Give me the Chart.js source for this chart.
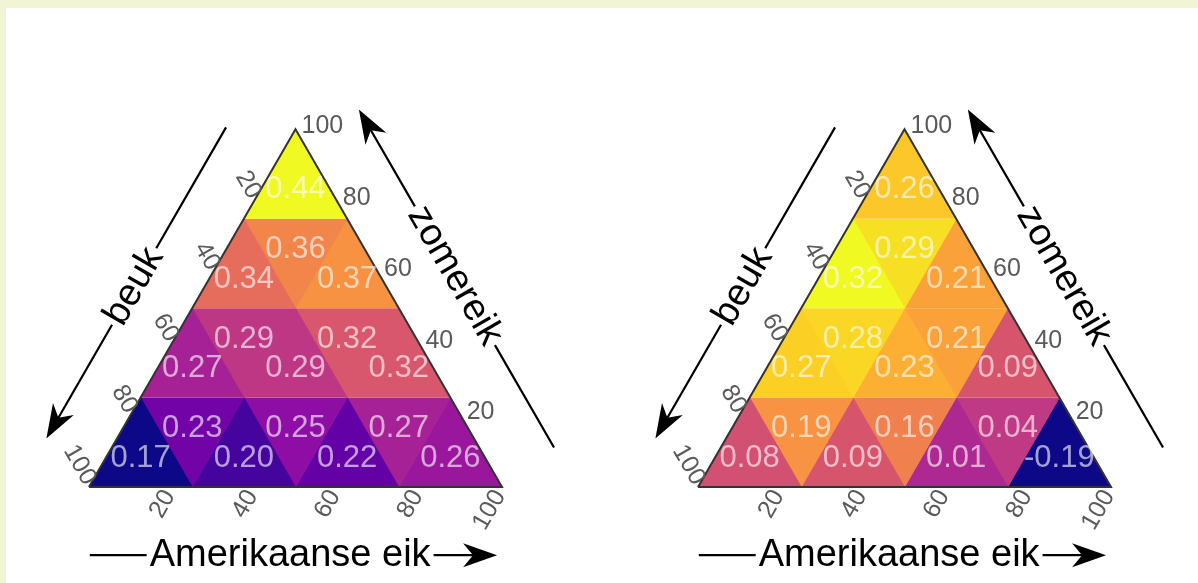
<!DOCTYPE html>
<html>
<head>
<meta charset="utf-8">
<script src="https://cdn.jsdelivr.net/npm/chart.js@4.4.1/dist/chart.umd.min.js"></script>
<style>
  html, body { margin: 0; padding: 0; background: #f1f5d6; overflow: hidden; }
  #panel { position: absolute; left: 6px; top: 8px; width: 1192px; height: 575px; background: #fff; }
  canvas { position: absolute; left: 0; top: 0; }
</style>
</head>
<body>
<div id="panel"></div>
<canvas id="ternary" width="1198" height="583"></canvas>
<script>
// values per row, top to bottom; within a row left to right (up, down, up, ...)
const leftRow1 = [0.44];
const leftRow2 = [0.34, 0.36, 0.37];
const leftRow3 = [0.27, 0.29, 0.29, 0.32, 0.32];
const leftRow4 = [0.17, 0.23, 0.20, 0.25, 0.22, 0.27, 0.26];

const rightRow1 = [0.26];
const rightRow2 = [0.32, 0.29, 0.21];
const rightRow3 = [0.27, 0.28, 0.23, 0.21, 0.09];
const rightRow4 = [0.08, 0.19, 0.09, 0.16, 0.01, 0.04, -0.19];

const tickValues = [20, 40, 60, 80, 100];
const bottomTitle = 'Amerikaanse eik';
const leftTitle = 'beuk';
const rightTitle = 'zomereik';

// layout
const H = Math.sqrt(3) / 2;
const UNIT = 413;          // px per side of triangle
const ORIGIN_X = 89, ORIGIN_Y = 487;
const panelShift = [0, 609 / UNIT];
const FONT = '"Liberation Sans", Arial, Helvetica, sans-serif';

const plasmaStops = ['#0d0887', '#41049d', '#6a00a8', '#8f0da4', '#b12a90', '#cc4778',
  '#e16462', '#f2844b', '#fca636', '#fcce25', '#f0f921'];

function hexToRgb(h) {
  const n = parseInt(h.slice(1), 16);
  return [(n >> 16) & 255, (n >> 8) & 255, n & 255];
}

function plasma(t) {
  t = Math.min(1, Math.max(0, t));
  const p = t * 10;
  const i = Math.min(9, Math.floor(p));
  const f = p - i;
  const a = hexToRgb(plasmaStops[i]), b = hexToRgb(plasmaStops[i + 1]);
  const c = a.map((v, k) => Math.round(v + (b[k] - v) * f));
  return `rgb(${c[0]},${c[1]},${c[2]})`;
}

// split the triangle in rows x rows small triangles
function cellsOf(rows, shift) {
  const n = rows.length;
  const all = rows.flat();
  const lo = Math.min(...all), hi = Math.max(...all);
  const out = [];
  rows.forEach((vals, r) => {
    const zt = 1 - r / n, zb = 1 - (r + 1) / n;
    vals.forEach((v, k) => {
      const j = Math.floor(k / 2);
      let pts;
      if (k % 2 === 0) {
        pts = [[zb / 2 + j / n, zb * H], [zb / 2 + (j + 0.5) / n, zt * H], [zb / 2 + (j + 1) / n, zb * H]];
      } else {
        pts = [[zt / 2 + j / n, zt * H], [zb / 2 + (j + 1) / n, zb * H], [zt / 2 + (j + 1) / n, zt * H]];
      }
      out.push({
        v,
        color: plasma((v - lo) / (hi - lo)),
        pts: pts.map(([x, y]) => ({ x: x + shift, y }))
      });
    });
  });
  return out;
}

const panels = [
  cellsOf([leftRow1, leftRow2, leftRow3, leftRow4], panelShift[0]),
  cellsOf([rightRow1, rightRow2, rightRow3, rightRow4], panelShift[1])
];

const datasets = [];
// outlines first so they end up on top
panelShift.forEach(s => {
  datasets.push({
    data: [{ x: s, y: 0 }, { x: s + 1, y: 0 }, { x: s + 0.5, y: H }, { x: s, y: 0 }],
    borderColor: '#333',
    borderWidth: 2,
    fill: false,
    pointRadius: 0
  });
});
panels.forEach(cells => cells.forEach(c => {
  datasets.push({
    data: c.pts,
    borderColor: c.color,
    backgroundColor: c.color,
    borderWidth: 1,
    fill: 'shape',
    pointRadius: 0
  });
}));

function drawArrowHead(ctx, tip, u) {
  const L = 34, W = 12, notch = 10;
  const nx = -u.y, ny = u.x;
  ctx.beginPath();
  ctx.moveTo(tip.x, tip.y);
  ctx.lineTo(tip.x - L * u.x + W * nx, tip.y - L * u.y + W * ny);
  ctx.lineTo(tip.x - (L - notch) * u.x, tip.y - (L - notch) * u.y);
  ctx.lineTo(tip.x - L * u.x - W * nx, tip.y - L * u.y - W * ny);
  ctx.closePath();
  ctx.fill();
}

// axis title with a line broken around the text and an arrow head at "tip"
function drawTitle(ctx, text, start, tip, center) {
  const dx = tip.x - start.x, dy = tip.y - start.y;
  const len = Math.hypot(dx, dy);
  const u = { x: dx / len, y: dy / len };
  let ang = Math.atan2(u.y, u.x);
  if (ang > Math.PI / 2) ang -= Math.PI;
  if (ang < -Math.PI / 2) ang += Math.PI;
  ctx.font = `38px ${FONT}`;
  const half = ctx.measureText(text).width / 2 + 3;
  ctx.strokeStyle = '#000';
  ctx.fillStyle = '#000';
  ctx.lineWidth = 2.2;
  ctx.beginPath();
  ctx.moveTo(start.x, start.y);
  ctx.lineTo(center.x - half * u.x, center.y - half * u.y);
  ctx.moveTo(center.x + half * u.x, center.y + half * u.y);
  ctx.lineTo(tip.x - 22 * u.x, tip.y - 22 * u.y);
  ctx.stroke();
  drawArrowHead(ctx, tip, u);
  ctx.save();
  ctx.translate(center.x, center.y);
  ctx.rotate(ang);
  ctx.textAlign = 'center';
  ctx.textBaseline = 'middle';
  ctx.fillText(text, 0, 0);
  ctx.restore();
}

const decorPlugin = {
  id: 'ternaryDecor',
  afterDatasetsDraw(chart) {
    const { ctx, scales: { x, y } } = chart;
    const px = (a, b) => ({ x: x.getPixelForValue(a), y: y.getPixelForValue(b) });

    // cell values at the centroids
    ctx.save();
    ctx.font = `31px ${FONT}`;
    ctx.textAlign = 'center';
    ctx.textBaseline = 'middle';
    ctx.fillStyle = 'rgba(255,255,255,0.62)';
    panels.forEach(cells => cells.forEach(c => {
      const cx = (c.pts[0].x + c.pts[1].x + c.pts[2].x) / 3;
      const cy = (c.pts[0].y + c.pts[1].y + c.pts[2].y) / 3;
      const p = px(cx, cy);
      ctx.fillText(c.v.toFixed(2), p.x, p.y + 1);
    }));
    ctx.restore();

    panelShift.forEach(s => {
      ctx.save();
      ctx.font = `25px ${FONT}`;
      ctx.fillStyle = '#5a5a5a';
      tickValues.forEach(t => {
        const f = t / 100;
        // bottom axis
        let p = px(s + f, 0);
        ctx.save();
        ctx.translate(p.x - 2, p.y + 5);
        ctx.rotate(-Math.PI / 3);
        ctx.textAlign = 'right';
        ctx.textBaseline = 'middle';
        ctx.fillText(String(t), 0, 0);
        ctx.restore();
        // left axis (beuk)
        p = px(s + 0.5 * (1 - f), H * (1 - f));
        ctx.save();
        ctx.translate(p.x + 1, p.y - 4);
        ctx.rotate(Math.PI / 3);
        ctx.textAlign = 'right';
        ctx.textBaseline = 'middle';
        ctx.fillText(String(t), 0, 0);
        ctx.restore();
        // right axis (zomereik)
        p = px(s + 1 - 0.5 * f, H * f);
        ctx.textAlign = 'left';
        ctx.textBaseline = 'middle';
        ctx.fillText(String(t), p.x + 6, p.y - 3);
      });
      ctx.restore();

      ctx.save();
      // left: apex -> bottom left, shifted outward
      const offL = 0.148, nL = { x: -H, y: 0.5 };
      const onLeft = (t) => px(s + 0.5 * (1 - t) + offL * nL.x, H * (1 - t) + offL * nL.y);
      drawTitle(ctx, leftTitle, onLeft(0.08), onLeft(0.95), onLeft(0.525));
      // right: bottom right -> apex
      const offR = 0.157, nR = { x: H, y: 0.5 };
      const onRight = (t) => px(s + 0.5 + 0.5 * t + offR * nR.x, H * (1 - t) + offR * nR.y);
      drawTitle(ctx, rightTitle, onRight(0.98), onRight(0.035), onRight(0.5));
      // bottom: left -> right
      const offB = 0.165;
      const onBottom = (t) => px(s + t, -offB);
      drawTitle(ctx, bottomTitle, onBottom(0.002), onBottom(0.988), onBottom(0.487));
      ctx.restore();
    });
  }
};

new Chart(document.getElementById('ternary'), {
  type: 'line',
  data: { datasets },
  options: {
    responsive: false,
    animation: false,
    events: [],
    layout: { padding: 0, autoPadding: false },
    plugins: { legend: { display: false }, tooltip: { enabled: false } },
    elements: { line: { tension: 0 } },
    scales: {
      x: { type: 'linear', display: false, min: -ORIGIN_X / UNIT, max: (1198 - ORIGIN_X) / UNIT },
      y: { type: 'linear', display: false, min: -(583 - ORIGIN_Y) / UNIT, max: ORIGIN_Y / UNIT }
    }
  },
  plugins: [decorPlugin]
});
</script>
</body>
</html>
